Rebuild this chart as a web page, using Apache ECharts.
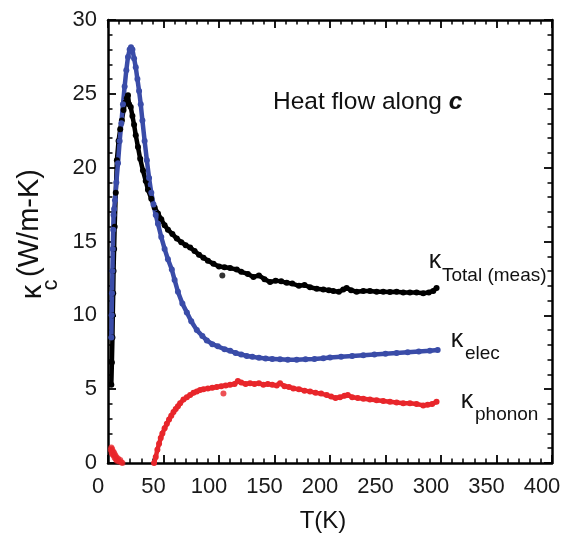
<!DOCTYPE html>
<html>
<head>
<meta charset="utf-8">
<script src="https://cdn.jsdelivr.net/npm/echarts@6/dist/echarts.min.js"></script>
<style>
html,body{margin:0;padding:0;background:#fff;}
#chart{width:577px;height:536px;}
</style>
</head>
<body>
<div id="chart"></div>
<script>
// ---- data ----
var xTicks = [0, 50, 100, 150, 200, 250, 300, 350, 400];
var yTicks = [0, 5, 10, 15, 20, 25, 30];

// total (measured) thermal conductivity, black
var tTotal = [3.0,3.5,4.0,4.3,4.7,5.0,5.5,6.0,7.0,8.0,9.5,11,12.5,14,15.5,17,18,19,20.5,22,23.5,25,27,29,31.5,34,36,39,42,45,48,51,54,58,62,66,70,74,78,82,86,90,95,100,105,110,116,120,126,131,136,141,146,151,156,161,166,172,177,182,188,194,199,203,208,212,215,219,224,230,236,242,248,254,260,266,272,278,284,289,293,296];
var kTotal = [5.3,6.8,8.5,10.0,11.5,13.0,14.5,16.0,18.3,20.5,21.8,22.6,23.2,23.9,24.4,24.7,24.9,24.3,24.1,23.5,22.9,22.2,21.4,20.6,19.8,19.1,18.5,17.9,17.3,16.9,16.5,16.1,15.8,15.5,15.2,14.95,14.75,14.6,14.35,14.1,13.9,13.7,13.5,13.3,13.25,13.2,13.1,12.95,12.8,12.6,12.7,12.45,12.25,12.35,12.3,12.2,12.15,12.0,12.05,11.9,11.8,11.75,11.7,11.65,11.6,11.75,11.85,11.7,11.6,11.65,11.65,11.6,11.6,11.58,11.6,11.55,11.55,11.55,11.5,11.55,11.65,11.85];
var tTotalOut = [103];
var kTotalOut = [12.7];

// electronic contribution, blue
var tElec = [3.0,3.3,3.6,4.0,4.3,4.7,5.0,5.5,6.3,7.5,9.0,10.5,12.0,13.5,15.0,16.5,18,19.5,20.7,22,23.5,25,26.5,28,29.5,31,33,35,37,39,41,43,45,48,51,54,57.5,60,63,67,71,75,80,85,89,94,99,105,110,115,120,125,130,136,142,148,155,162,170,178,186,194,200,210,220,230,240,250,260,270,280,290,297];
var kElec = [8.5,10.0,11.5,13.0,14.5,15.8,16.8,17.2,17.8,19.0,20.3,21.8,23.0,24.3,25.5,26.6,27.5,28.0,28.15,28.0,27.4,26.8,26.0,25.2,24.3,23.2,21.8,20.5,19.3,18.3,17.5,16.8,16.2,15.3,14.5,13.8,13.1,12.4,11.6,10.8,10.2,9.6,9.0,8.6,8.3,8.05,7.9,7.7,7.6,7.45,7.35,7.25,7.2,7.12,7.08,7.05,7.02,7.0,7.0,7.02,7.05,7.1,7.15,7.2,7.25,7.3,7.35,7.4,7.45,7.5,7.55,7.6,7.65];

// phonon contribution, red
var tPhononLow = [2.5,3,3.3,3.7,4,4.5,5,5.5,6,6.5,7,7.5,8,9,10,11,12,13];
var kPhononLow = [0.9,1.05,0.7,0.95,0.6,0.8,0.5,0.7,0.35,0.55,0.25,0.4,0.15,0.3,0.1,0.2,0.05,0.0];
var tPhonon = [41.5,43,44.5,46,47.5,49,51,53,55,57,59,61,63,65,68,71,74,77,80,83,86,90,94,98,102,106,110,114,117,120,124,128,132,136,140,144,148,152,155,159,163,167,172,177,182,187,192,197,201,205,209,213,216,220,225,230,236,242,248,254,260,266,272,278,284,288,292,296];
var kPhonon = [0.0,0.4,0.9,1.3,1.7,2.0,2.35,2.65,2.95,3.2,3.45,3.65,3.85,4.05,4.3,4.45,4.6,4.75,4.85,4.95,5.0,5.05,5.1,5.15,5.2,5.25,5.3,5.35,5.55,5.45,5.35,5.4,5.35,5.4,5.3,5.35,5.3,5.25,5.4,5.2,5.15,5.05,5.0,4.9,4.85,4.75,4.7,4.6,4.5,4.4,4.45,4.55,4.6,4.45,4.4,4.35,4.3,4.25,4.2,4.15,4.1,4.05,4.05,4.0,3.9,3.95,4.0,4.15];
var tPhononOut = [104];
var kPhononOut = [4.7];

function pairs(xs, ys){ var o=[]; for(var i=0;i<xs.length;i++){o.push([xs[i],ys[i]]);} return o; }

var BLACK = '#000000', BLUE = '#3a4ca8', RED = '#e8262b';
var FONT = 'Liberation Sans, Arial, Helvetica, sans-serif';

var chart = echarts.init(document.getElementById('chart'), null, {renderer:'canvas'});

function axisCommon(){
  return {
    axisLine:{show:true, onZero:false, lineStyle:{color:'#000', width:2.5}},
    axisTick:{show:true, inside:true, length:8, lineStyle:{color:'#000', width:1.8}},
    minorTick:{show:true, splitNumber:5, length:4.5, lineStyle:{color:'#000', width:1.5}},
    splitLine:{show:false},
    minorSplitLine:{show:false}
  };
}

var xMain = Object.assign(axisCommon(), {
  type:'value', min:xTicks[0], max:xTicks[xTicks.length-1], interval:xTicks[1]-xTicks[0], position:'bottom',
  axisLabel:{show:true, margin:13, fontSize:22, color:'#1a1a1a', fontFamily:FONT, padding:[0,20,0,0]}
});
var xTop = Object.assign(axisCommon(), {
  type:'value', min:xTicks[0], max:xTicks[xTicks.length-1], interval:xTicks[1]-xTicks[0], position:'top',
  axisLabel:{show:false}
});
var yMain = Object.assign(axisCommon(), {
  type:'value', min:yTicks[0], max:yTicks[yTicks.length-1], interval:yTicks[1]-yTicks[0], position:'left',
  axisLabel:{show:true, margin:11, fontSize:22, color:'#1a1a1a', fontFamily:FONT}
});
var yRight = Object.assign(axisCommon(), {
  type:'value', min:yTicks[0], max:yTicks[yTicks.length-1], interval:yTicks[1]-yTicks[0], position:'right',
  axisLabel:{show:false}
});

function lineSeries(data, color){
  return {type:'line', xAxisIndex:0, yAxisIndex:0, data:data, symbol:'circle', symbolSize:6,
    showSymbol:true, showAllSymbol:true, lineStyle:{color:color, width:4.5, cap:'round', join:'round'}, itemStyle:{color:color},
    clip:true, silent:true, z:3};
}
function scatterSeries(data, color){
  return {type:'scatter', xAxisIndex:0, yAxisIndex:0, data:data, symbol:'circle', symbolSize:6,
    itemStyle:{color:color}, clip:true, silent:true, z:3};
}

var option = {
  animation:false,
  backgroundColor:'#ffffff',
  grid:{left:108, right:25, top:20, bottom:73, containLabel:false},
  xAxis:[xMain, xTop],
  yAxis:[yMain, yRight],
  series:[
    lineSeries(pairs(tPhonon,kPhonon), RED),
    scatterSeries(pairs(tPhononLow,kPhononLow), RED),
    scatterSeries(pairs(tPhononOut,kPhononOut), RED),
    lineSeries(pairs(tTotal,kTotal), BLACK),
    scatterSeries(pairs(tTotalOut,kTotalOut), BLACK),
    lineSeries(pairs(tElec,kElec), BLUE)
  ],
  graphic:[
    {type:'text', x:273, y:102, style:{text:'Heat flow along {b|c}', font:'24.5px '+FONT, fill:'#111',
      verticalAlign:'middle', align:'left',
      rich:{b:{font:'italic bold 24.5px '+FONT, fill:'#111'}}}},
    // kappa total
    {type:'text', x:435, y:261, style:{text:'κ', font:'25px '+FONT, fill:'#111', align:'center', verticalAlign:'middle'}},
    {type:'text', x:442, y:276, style:{text:'Total (meas)', font:'19px '+FONT, fill:'#111', align:'left', verticalAlign:'middle'}},
    // kappa elec
    {type:'text', x:457, y:340, style:{text:'κ', font:'25px '+FONT, fill:'#111', align:'center', verticalAlign:'middle'}},
    {type:'text', x:465, y:354, style:{text:'elec', font:'19px '+FONT, fill:'#111', align:'left', verticalAlign:'middle'}},
    // kappa phonon
    {type:'text', x:467, y:401, style:{text:'κ', font:'25px '+FONT, fill:'#111', align:'center', verticalAlign:'middle'}},
    {type:'text', x:475, y:415, style:{text:'phonon', font:'19px '+FONT, fill:'#111', align:'left', verticalAlign:'middle'}},
    // x axis title
    {type:'text', x:323, y:521, style:{text:'T(K)', font:'24px '+FONT, fill:'#111', align:'center', verticalAlign:'middle'}},
    // y axis title (rotated)
    {type:'text', x:33, y:292, rotation:Math.PI/2, style:{text:'κ', font:'29px '+FONT, fill:'#111', align:'center', verticalAlign:'middle'}},
    {type:'text', x:51, y:285, rotation:Math.PI/2, style:{text:'c', font:'22px '+FONT, fill:'#111', align:'center', verticalAlign:'middle'}},
    {type:'text', x:30, y:223, rotation:Math.PI/2, style:{text:'(W/m-K)', font:'29px '+FONT, fill:'#111', align:'center', verticalAlign:'middle'}}
  ]
};
chart.setOption(option);
</script>
</body>
</html>
